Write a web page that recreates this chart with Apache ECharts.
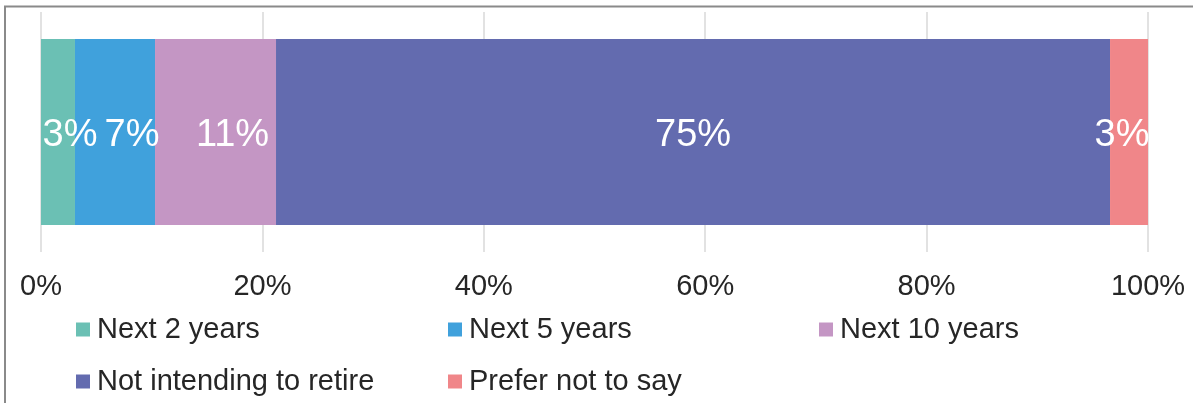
<!DOCTYPE html>
<html>
<head>
<meta charset="utf-8">
<script src="https://cdn.jsdelivr.net/npm/echarts@6/dist/echarts.min.js"></script>
<style>
  html, body { margin: 0; padding: 0; background: #fff; }
  #chart { width: 1193px; height: 403px; }
</style>
</head>
<body>
<div id="chart"></div>
<script>
// one stacked 100% bar
const categories = ['All']
const seriesNames = ['Next 2 years', 'Next 5 years', 'Next 10 years', 'Not intending to retire', 'Prefer not to say']
const next2 = [3.07]
const next5 = [7.23]
const next10 = [10.93]
const notRetire = [75.34]
const preferNot = [3.43]
const tickLabels = ['0%', '20%', '40%', '60%', '80%', '100%']

const colors = ['#6BC0B4', '#40A1DC', '#C496C4', '#636BAF', '#F08689']
// excel nudges the small labels so they don't collide
const labelOffsets = [[12, 4], [17, 4], [17, 4], [0, 4], [-7, 4]]
const values = [next2, next5, next10, notRetire, preferNot]

const chart = echarts.init(document.getElementById('chart'), null, { renderer: 'canvas' })

const legendPos = [
  { left: 76, top: 315 },
  { left: 448, top: 315 },
  { left: 819, top: 315 },
  { left: 76, top: 367 },
  { left: 448, top: 367 },
]

const option = {
  backgroundColor: '#fff',
  animation: false,
  color: colors,
  textStyle: { fontFamily: 'Liberation Sans, Arial, sans-serif' },
  graphic: [
    {
      type: 'rect',
      silent: true,
      shape: { x: 5, y: 6.5, width: 1210, height: 420 },
      style: { fill: 'none', stroke: '#8a8a8a', lineWidth: 2 },
    },
  ],
  legend: seriesNames.map((name, i) => ({
    data: [name],
    left: legendPos[i].left,
    top: legendPos[i].top,
    icon: 'rect',
    itemWidth: 14,
    itemHeight: 14,
    padding: 0,
    selectedMode: false,
    textStyle: { fontSize: 29, color: '#262626', padding: [0, 0, 0, 2] },
  })),
  grid: { left: 41, right: 45, top: 12, height: 240 },
  xAxis: {
    type: 'value',
    min: 0,
    max: 100,
    interval: 20,
    axisLine: { show: false },
    axisTick: { show: false },
    splitLine: { lineStyle: { color: '#d9d9d9', width: 1.5 } },
    axisLabel: {
      fontSize: 29,
      color: '#262626',
      margin: 20,
      formatter: (v) => tickLabels[v / 20],
    },
  },
  yAxis: {
    type: 'category',
    data: categories,
    axisLine: { show: false },
    axisTick: { show: false },
    axisLabel: { show: false },
  },
  series: seriesNames.map((name, i) => ({
    name: name,
    type: 'bar',
    stack: 'total',
    barWidth: '77.5%',
    data: values[i],
    label: {
      show: true,
      position: 'inside',
      color: '#fff',
      fontSize: 38,
      offset: labelOffsets[i],
      formatter: (p) => Math.round(p.value) + '%',
    },
  })),
}

chart.setOption(option)
</script>
</body>
</html>
